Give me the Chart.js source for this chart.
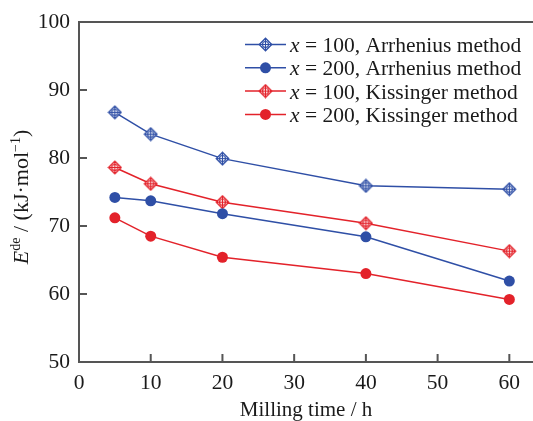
<!DOCTYPE html>
<html>
<head>
<meta charset="utf-8">
<script src="https://cdn.jsdelivr.net/npm/chart.js@4.4.1/dist/chart.umd.min.js"></script>
<style>
  html, body { margin: 0; padding: 0; background: #fff; overflow: hidden; }
</style>
</head>
<body>
<canvas id="chart" width="533" height="421"></canvas>
<script>
// milling time (h) and activation energies (kJ/mol)
const millingTime = [5, 10, 20, 40, 60];
const arrhenius100 = [86.7, 83.5, 79.9, 75.9, 75.4];
const arrhenius200 = [74.2, 73.7, 71.8, 68.4, 61.9];
const kissinger100 = [78.6, 76.2, 73.5, 70.4, 66.3];
const kissinger200 = [71.2, 68.5, 65.4, 63.0, 59.2];
const seriesNames = [' = 100, Arrhenius method', ' = 200, Arrhenius method',
                     ' = 100, Kissinger method', ' = 200, Kissinger method'];
const xTickValues = [0, 10, 20, 30, 40, 50, 60];

const BLUE = '#2f4fa6';
const RED = '#e3222a';
const AXIS = '#555555';
const TEXT = '#1a1a1a';
const SERIF = '"Liberation Serif", "Times New Roman", serif';

// diamond with a crossed circle inside
const diamondMarker = (color) => {
  const c = document.createElement('canvas');
  c.width = 15; c.height = 15;
  const g = c.getContext('2d');
  g.strokeStyle = color;
  g.fillStyle = '#fff';
  g.lineWidth = 1.4;
  g.beginPath();
  g.moveTo(7.5, 1.3); g.lineTo(13.7, 7.5); g.lineTo(7.5, 13.7); g.lineTo(1.3, 7.5);
  g.closePath();
  g.fill(); g.stroke();
  g.lineWidth = 1.1;
  g.beginPath();
  g.arc(7.5, 7.5, 3, 0, Math.PI * 2);
  g.stroke();
  g.beginPath();
  g.moveTo(7.5, 2); g.lineTo(7.5, 13);
  g.moveTo(2, 7.5); g.lineTo(13, 7.5);
  g.stroke();
  return c;
};

const toPoints = (ys) => millingTime.map((x, i) => ({ x: x, y: ys[i] }));

const makeSet = (label, ys, color, open) => ({
  label: label,
  data: toPoints(ys),
  borderColor: color,
  backgroundColor: color,
  borderWidth: 1.5,
  pointStyle: open ? diamondMarker(color) : 'circle',
  pointRadius: open ? 7 : 5.5,
  pointBorderWidth: 0,
  pointHoverRadius: open ? 7 : 5.5,
  fill: false,
  tension: 0
});

// inward ticks, top frame line, legend and y title
const decorations = {
  id: 'decorations',
  afterDraw(chart) {
    const ctx = chart.ctx;
    const area = chart.chartArea;
    const xs = chart.scales.x;
    const ys = chart.scales.y;
    ctx.save();
    ctx.strokeStyle = AXIS;
    ctx.lineWidth = 2;
    ctx.beginPath();
    ctx.moveTo(area.left - 1, area.top);
    ctx.lineTo(area.right, area.top);
    xs.ticks.forEach(t => {
      const px = xs.getPixelForValue(t.value);
      ctx.moveTo(px, area.bottom);
      ctx.lineTo(px, area.bottom - 8);
    });
    ys.ticks.forEach(t => {
      const py = ys.getPixelForValue(t.value);
      ctx.moveTo(area.left, py);
      ctx.lineTo(area.left + 8, py);
    });
    ctx.stroke();

    // legend
    chart.data.datasets.forEach((ds, i) => {
      const y = 44.5 + i * 23.3;
      ctx.strokeStyle = ds.borderColor;
      ctx.lineWidth = 1.5;
      ctx.beginPath();
      ctx.moveTo(245, y); ctx.lineTo(286, y);
      ctx.stroke();
      if (typeof ds.pointStyle === 'string') {
        ctx.fillStyle = ds.backgroundColor;
        ctx.beginPath();
        ctx.arc(265.5, y, ds.pointRadius, 0, Math.PI * 2);
        ctx.fill();
      } else {
        ctx.drawImage(ds.pointStyle, 265.5 - 7.5, y - 7.5);
      }
      ctx.fillStyle = TEXT;
      ctx.textBaseline = 'alphabetic';
      ctx.textAlign = 'left';
      ctx.font = 'italic 21.5px ' + SERIF;
      ctx.fillText('x', 290, y + 7.5);
      const w = ctx.measureText('x').width;
      ctx.font = '21.5px ' + SERIF;
      ctx.fillText(ds.label, 290 + w, y + 7.5);
    });

    // y axis title with superscripts
    const parts = [
      { t: 'E', f: 'italic 22px ' + SERIF, dy: 0 },
      { t: 'de', f: '14px ' + SERIF, dy: -8 },
      { t: ' / (kJ\u00b7mol', f: '22px ' + SERIF, dy: 0 },
      { t: '\u22121', f: '14px ' + SERIF, dy: -8 },
      { t: ')', f: '22px ' + SERIF, dy: 0 }
    ];
    let total = 0;
    parts.forEach(p => { ctx.font = p.f; p.w = ctx.measureText(p.t).width; total += p.w; });
    ctx.fillStyle = TEXT;
    ctx.translate(28, 197);
    ctx.rotate(-Math.PI / 2);
    let cx = -total / 2;
    parts.forEach(p => {
      ctx.font = p.f;
      ctx.fillText(p.t, cx, p.dy);
      cx += p.w;
    });
    ctx.restore();
  }
};

Chart.defaults.font.family = SERIF;
Chart.defaults.color = TEXT;

new Chart(document.getElementById('chart'), {
  type: 'line',
  data: {
    datasets: [
      makeSet(seriesNames[0], arrhenius100, BLUE, true),
      makeSet(seriesNames[1], arrhenius200, BLUE, false),
      makeSet(seriesNames[2], kissinger100, RED, true),
      makeSet(seriesNames[3], kissinger200, RED, false)
    ]
  },
  options: {
    responsive: false,
    devicePixelRatio: 1,
    animation: false,
    layout: { autoPadding: false, padding: { left: 0, right: 0, top: 20, bottom: 0 } },
    plugins: {
      legend: { display: false },
      tooltip: { enabled: false }
    },
    scales: {
      x: {
        type: 'linear',
        min: 0,
        max: 63.3,
        afterBuildTicks: (scale) => {
          scale.ticks = xTickValues.map(v => ({ value: v }));
        },
        afterFit: (scale) => {
          scale.height = 59;
          scale.paddingLeft = 0;
          scale.paddingRight = 0;
        },
        grid: { display: false, drawTicks: false },
        border: { display: true, color: AXIS, width: 2 },
        ticks: { font: { size: 21.5 }, color: TEXT, padding: 8, maxRotation: 0 },
        title: {
          display: true,
          text: 'Milling time / h',
          font: { size: 21 },
          color: TEXT,
          padding: { top: 0, bottom: -2 }
        }
      },
      y: {
        min: 50,
        max: 100,
        ticks: { stepSize: 10, font: { size: 21.5 }, color: TEXT, padding: 9 },
        afterFit: (scale) => { scale.width = 79; },
        grid: { display: false, drawTicks: false },
        border: { display: true, color: AXIS, width: 2 }
      }
    }
  },
  plugins: [decorations]
});
</script>
</body>
</html>
